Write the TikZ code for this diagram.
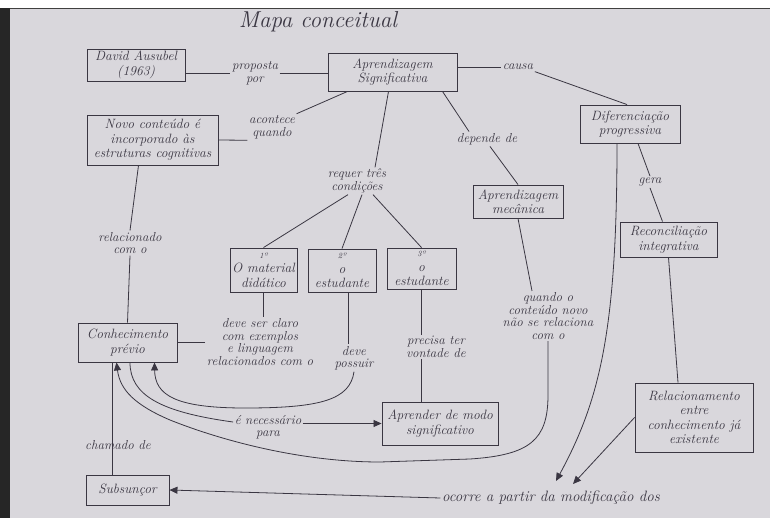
\documentclass[tikz,border=0pt]{standalone}
\usetikzlibrary{arrows.meta}
\definecolor{paper}{HTML}{D9D7DC}
\definecolor{ink}{HTML}{3A3642}
\begin{document}
\begin{tikzpicture}[x=1pt,y=-1pt,
  every node/.style={font=\itshape\fontsize{13.5}{14.5}\selectfont, text=ink},
  box/.style={draw=ink, line width=0.9pt, rectangle, inner sep=1pt, align=center},
  lbl/.style={inner sep=1.5pt, align=center, font=\itshape\fontsize{13}{12.5}\selectfont},
  con/.style={draw=ink, line width=0.8pt},
  arr/.style={con, -{Triangle[length=8pt,width=7pt]}}
]
\useasboundingbox (0,0) rectangle (770,518);
\fill[white] (0,0) rectangle (770,518);
\fill[paper] (10,8) rectangle (770,518);
\fill[black!85] (0,8) rectangle (10,518);
\draw[black!75, line width=1pt] (10,8.5) -- (770,8.5);

% title
\node[font=\itshape\fontsize{23}{25}\selectfont] (title) at (318,22) {Mapa conceitual};

% boxes
\node[box, minimum width=98pt, minimum height=32pt] (david) at (136,65) {David Ausubel\\(1963)};
\node[box, minimum width=129pt, minimum height=38pt] (aprend) at (392.5,72) {Aprendizagem\\Significativa};
\node[box, minimum width=131pt, minimum height=50pt] (novo) at (152.5,140) {Novo conteúdo é\\incorporado às\\estruturas cognitivas};
\node[box, minimum width=100pt, minimum height=38pt] (difer) at (630,124) {Diferenciação\\progressiva};
\node[box, minimum width=90pt, minimum height=33pt] (mec) at (518,201.5) {Aprendizagem\\mecânica};
\node[box, minimum width=97pt, minimum height=35pt] (recon) at (668.5,239.5) {Reconciliação\\integrativa};
\node[box, minimum width=67pt, minimum height=44pt] (mat) at (263.5,270) {{\fontsize{8}{9}\selectfont 1º}\\O material\\didático};
\node[box, minimum width=68pt, minimum height=43pt] (est2) at (342,270.5) {{\fontsize{8}{9}\selectfont 2º}\\o\\estudante};
\node[box, minimum width=69pt, minimum height=41pt] (est3) at (421.5,268.5) {{\fontsize{8}{9}\selectfont 3º}\\o\\estudante};
\node[box, minimum width=99pt, minimum height=39pt] (conh) at (127.5,342.5) {Conhecimento\\prévio};
\node[box, minimum width=116pt, minimum height=43pt] (aprender) at (440,423.5) {Aprender de modo\\significativo};
\node[box, minimum width=118pt, minimum height=69pt] (relac) at (694,417.5) {Relacionamento\\entre\\conhecimento já\\existente};
\node[box, minimum width=83pt, minimum height=30pt] (subs) at (127.5,490) {Subsunçor};

% labels
\node[lbl] (proposta) at (255,73) {proposta\\por};
\node[lbl] (causa) at (518,67) {causa};
\node[lbl] (acontece) at (272,127) {acontece\\quando};
\node[lbl] (requer) at (357,181) {requer três\\condições};
\node[lbl] (depende) at (487,139) {depende de};
\node[lbl] (gera) at (650,182) {gera};
\node[lbl] (relacionado) at (130,243) {relacionado\\com o};
\node[lbl] (claro) at (260,342) {deve ser claro\\com exemplos\\e linguagem\\relacionados com o};
\node[lbl] (possuir) at (354,358) {deve\\possuir};
\node[lbl] (vontade) at (436,347) {precisa ter\\vontade de};
\node[lbl] (quando) at (548,316) {quando o\\conteúdo novo\\não se relaciona\\com o};
\node[lbl] (necessario) at (268,427) {é necessário\\para};
\node[lbl] (chamado) at (118,445) {chamado de};
\node[lbl, font=\itshape\fontsize{15}{16}\selectfont] (ocorre) at (551,498) {ocorre a partir da modificação dos};

\coordinate (tipA) at (556,481);
\coordinate (tipB) at (573,484);

% connectors
\draw[con] (david.east |- proposta) -- (proposta.west);
\draw[con] (proposta.east) -- (proposta.east -| aprend.west);
\draw[con] (aprend.east |- causa) -- (causa.west);
\draw[con] (causa.south east) -- ([xshift=-3pt]difer.north);
\draw[con] ([xshift=-45pt]aprend.south) -- (acontece.north east);
\draw[con] (acontece.south west) -- (novo.east);
\draw[con] ([xshift=-4pt]aprend.south) -- ([xshift=18pt]requer.north);
\draw[con] ([xshift=50pt]aprend.south) -- ([xshift=-18pt]depende.north);
\draw[con] ([xshift=3pt]depende.south) -- (mec.north);
\draw[con] ([xshift=8pt]difer.south) -- (gera.north);
\draw[con] (gera.south) -- ([xshift=-6pt]recon.north);
\draw[arr] ([xshift=-13pt]difer.south) .. controls (617,330) and (600,400) .. (tipA);
\draw[con] (recon.south) -- ([xshift=-16pt]relac.north);
\draw[arr] (relac.west) -- (tipB);

\draw[con] ([xshift=-9pt]requer.south) -- (mat.north);
\draw[con] ([xshift=5pt]requer.south) -- (est2.north);
\draw[con] ([xshift=16pt]requer.south) -- (est3.north);

\draw[con] (mat.south) -- (mat.south |- claro.north);
\draw[con] (claro.west |- conh.east) -- (conh.east);
\draw[con] ([xshift=6pt]est2.south) -- ([xshift=6pt]est2.south |- possuir.north);
\draw[arr] (possuir.south) .. controls (350,400) and (320,408) .. (245,408) .. controls (175,408) and (155,395) .. ([xshift=27pt]conh.south);
\draw[con] (est3.south) -- (est3.south |- vontade.north);
\draw[con] (est3.south |- vontade.south) -- (est3.south |- aprender.north);

\draw[con] (mec.south) -- ([xshift=-16pt]quando.north);
\draw[arr] (quando.south) -- ++(0,54) .. controls (548,440) and (530,455) .. (470,459) -- (380,462) .. controls (300,462) and (220,440) .. (170,420) .. controls (135,405) and (120,390) .. ([xshift=-11pt]conh.south);

\draw[con] ([xshift=2.5pt]conh.south) .. controls (130,395) and (160,412) .. ([yshift=5pt]necessario.west);
\draw[arr] (necessario.east |- aprender.west) -- (aprender.west);

\draw[con] ([xshift=-14pt]novo.south) -- (relacionado.north);
\draw[con] (relacionado.south) -- (conh.north);

\draw[con] ([xshift=-15pt]subs.north) -- ([xshift=-15pt]conh.south);
\draw[arr] (ocorre.west) -- (subs.east);
\end{tikzpicture}
\end{document}
